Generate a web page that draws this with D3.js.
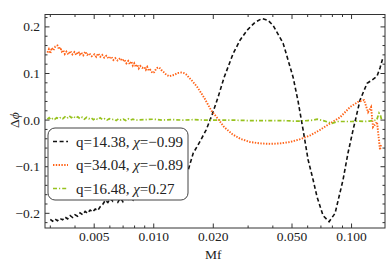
<!DOCTYPE html>
<html>
<head>
<meta charset="utf-8">
<script src="https://cdn.jsdelivr.net/npm/d3@7"></script>
<style>
  body { margin: 0; background: #fff; }
  svg { display: block; font-family: "Liberation Serif", "Times New Roman", serif; }
</style>
</head>
<body>
<div id="chart"></div>
<script>
// series: [Mf, dphi]
var blackPts = [
  [0.00300,-0.213],[0.00308,-0.217],[0.00317,-0.212],[0.00326,-0.216],[0.00336,-0.211],[0.00346,-0.214],
  [0.00356,-0.208],[0.00367,-0.212],[0.00378,-0.205],[0.00389,-0.209],[0.00400,-0.203],[0.00412,-0.206],
  [0.00424,-0.199],[0.00437,-0.203],[0.00450,-0.196],[0.00463,-0.200],[0.00477,-0.193],[0.00491,-0.197],
  [0.00506,-0.191],[0.00521,-0.194],[0.00536,-0.186],[0.00552,-0.181],[0.00569,-0.172],[0.00586,-0.177],
  [0.00603,-0.168],[0.00621,-0.174],[0.00640,-0.166],[0.00659,-0.176],[0.00678,-0.167],[0.00698,-0.175],
  [0.00719,-0.165],[0.00741,-0.172],[0.00763,-0.163],[0.00786,-0.171],[0.00809,-0.160],[0.00833,-0.168],
  [0.00858,-0.158],[0.0100,-0.150],[0.0120,-0.135],[0.0140,-0.118],
  [0.01494,-0.107],[0.01583,-0.071],[0.01717,-0.045],[0.01841,-0.021],[0.01974,0.012],[0.02117,0.050],
  [0.02270,0.092],[0.02521,0.143],[0.02735,0.172],[0.02966,0.193],[0.03256,0.210],[0.03532,0.218],
  [0.03787,0.214],[0.04013,0.203],[0.04508,0.165],[0.05064,0.092],[0.05368,0.040],[0.05689,-0.021],
  [0.06030,-0.085],[0.06391,-0.128],[0.06695,-0.165],[0.07179,-0.205],[0.07697,-0.218],[0.08253,-0.200],
  [0.09058,-0.128],[0.09601,-0.070],[0.1018,-0.021],[0.1104,0.043],[0.1198,0.079],[0.1269,0.086],
  [0.1345,0.094],[0.1393,0.112],[0.1443,0.135]
];
var orangePts = [
  [0.00290,0.145],[0.00295,0.152],[0.00300,0.143],[0.00305,0.155],[0.00311,0.150],[0.00318,0.158],
  [0.00326,0.160],[0.00332,0.152],[0.00337,0.156],[0.00343,0.147],[0.00349,0.150],[0.00355,0.142],
  [0.00362,0.147],[0.00370,0.141],[0.00379,0.148],[0.00388,0.141],[0.00397,0.146],[0.00406,0.140],
  [0.00416,0.147],[0.00423,0.141],[0.00430,0.145],[0.00440,0.139],[0.00451,0.147],[0.00461,0.140],
  [0.00472,0.143],[0.00486,0.137],[0.00501,0.141],[0.00512,0.136],[0.00524,0.143],[0.00537,0.136],
  [0.00549,0.140],[0.00562,0.134],[0.00576,0.138],[0.00593,0.132],[0.00610,0.136],[0.00625,0.129],
  [0.00639,0.133],[0.00656,0.128],[0.00677,0.133],[0.00693,0.127],[0.00710,0.130],[0.00727,0.122],
  [0.00743,0.127],[0.00757,0.120],[0.00770,0.126],[0.00784,0.117],[0.00797,0.122],[0.00811,0.114],
  [0.00825,0.119],[0.00840,0.111],[0.00855,0.116],[0.00875,0.112],[0.00896,0.114],[0.00912,0.108],
  [0.00927,0.114],[0.00944,0.106],[0.00960,0.108],[0.00985,0.101],[0.01006,0.103],[0.01025,0.109],
  [0.01042,0.112],[0.01066,0.113],[0.01090,0.108],[0.01117,0.104],[0.01160,0.097],[0.01198,0.094],
  [0.01240,0.096],[0.01269,0.097],[0.01320,0.101],[0.01377,0.102],[0.01420,0.101],[0.01459,0.098],
  [0.01510,0.091],[0.01565,0.084],[0.01659,0.071],[0.01799,0.048],[0.01951,0.021],[0.02117,0.002],
  [0.02270,-0.015],[0.02492,-0.030],[0.02735,-0.040],[0.03072,-0.047],[0.03451,-0.050],[0.03876,-0.051],
  [0.04354,-0.050],[0.04891,-0.047],[0.05494,-0.041],[0.06171,-0.033],[0.06932,-0.021],[0.07787,-0.007],
  [0.08747,0.006],[0.09826,0.028],[0.1078,0.039],[0.1157,0.043],[0.1212,0.017],[0.1255,0.028],
  [0.1284,-0.015],[0.1345,-0.004],[0.1393,-0.064],[0.1409,-0.053]
];
var greenPts = [
  [0.00290,0.002],[0.00296,0.005],[0.00302,0.001],[0.00309,0.004],[0.00316,0.002],[0.00323,0.005],
  [0.00331,0.003],[0.00339,0.006],[0.00347,0.003],[0.00356,0.007],[0.00365,0.004],[0.00374,0.009],
  [0.00383,0.005],[0.00393,0.008],[0.00403,0.004],[0.00413,0.007],[0.00424,0.003],[0.00435,0.006],
  [0.00446,0.002],[0.00458,0.006],[0.00470,0.003],[0.00482,0.005],[0.00495,0.001],[0.00508,0.004],
  [0.00522,0.001],[0.00536,0.005],[0.00550,0.001],[0.00565,0.003],[0.00580,0.000],[0.00596,0.003],
  [0.00612,0.001],[0.00629,0.002],[0.00646,-0.001],[0.00664,0.003],[0.00683,0.000],[0.00702,0.002],
  [0.00722,-0.001],[0.00742,0.003],[0.00763,0.000],[0.00785,0.002],[0.00808,0.000],[0.0090,0.001],
  [0.0100,0.002],[0.0110,0.000],[0.0125,0.001],[0.0140,0.000],[0.0160,0.001],[0.0180,0.000],
  [0.0210,0.000],[0.0250,0.000],[0.0300,-0.001],[0.0350,-0.001],[0.0400,-0.001],[0.0450,-0.001],
  [0.0500,-0.002],[0.0550,-0.002],[0.0600,-0.001],[0.0640,0.000],[0.0670,0.002],[0.0720,-0.001],
  [0.0797,-0.007],[0.0850,-0.003],[0.0920,-0.003],[0.1000,-0.003],[0.1080,-0.002],[0.1160,-0.003],
  [0.1230,-0.002],[0.1290,-0.001],[0.1340,0.000],[0.1377,0.015],[0.1400,0.010],[0.1420,0.000]
];

var seriesNames = ["q=14.38, ", "q=34.04, ", "q=16.48, "];
var seriesChi = ["=\u22120.99", "=\u22120.89", "=0.27"];
var seriesColors = ["#111111", "#ff6318", "#97c21e"];
var seriesDash = ["4,2.6", "1.4,1.4", "4,2,1.2,2"];

var xMajor = [0.005, 0.01, 0.02, 0.05, 0.1];
var xLabels = ["0.005", "0.010", "0.020", "0.050", "0.100"];
var yMajor = [-0.2, -0.1, 0, 0.1, 0.2];
var yLabels = ["\u22120.2", "\u22120.1", "0.0", "0.1", "0.2"];

var width = 390, height = 261;
var margin = {top: 14.5, right: 5, bottom: 33, left: 45};

var svg = d3.select('#chart').append('svg')
    .attr('width', width)
    .attr('height', height);

var x = d3.scaleLog()
    .domain([0.00282, 0.1476])
    .range([margin.left, width - margin.right]);

var y = d3.scaleLinear()
    .domain([-0.2315, 0.2266])
    .range([height - margin.bottom, margin.top]);

svg.append('clipPath').attr('id', 'clip')
  .append('rect')
    .attr('x', margin.left).attr('y', margin.top)
    .attr('width', x.range()[1] - x.range()[0])
    .attr('height', y.range()[0] - y.range()[1]);

var line = d3.line()
    .x(function(d) { return x(d[0]); })
    .y(function(d) { return y(d[1]); });

var allSeries = [blackPts, orangePts, greenPts];
var widths = [1.6, 1.9, 1.7];

svg.append('g').attr('clip-path', 'url(#clip)')
  .selectAll('path')
  .data(allSeries)
  .enter().append('path')
    .attr('d', line)
    .attr('fill', 'none')
    .attr('stroke', function(d, i) { return seriesColors[i]; })
    .attr('stroke-width', function(d, i) { return widths[i]; })
    .attr('stroke-dasharray', function(d, i) { return seriesDash[i]; });

// frame + ticks (inside, mirrored)
var x0 = x.range()[0], x1 = x.range()[1], y0 = y.range()[0], y1 = y.range()[1];
var axes = svg.append('g').attr('stroke', '#333').attr('stroke-width', 1);

axes.append('rect')
    .attr('x', x0).attr('y', y1)
    .attr('width', x1 - x0).attr('height', y0 - y1)
    .attr('fill', 'none');

var xMinor = x.ticks().filter(function(t) {
  return xMajor.every(function(m) { return Math.abs(m - t) / m > 1e-6; });
});
var yMinor = d3.range(-22, 23, 2).map(function(v) { return v / 100; })
  .filter(function(t) { return Math.abs(t * 10 - Math.round(t * 10)) > 1e-6; });

function xTicks(vals, len) {
  vals.forEach(function(t) {
    axes.append('line').attr('x1', x(t)).attr('x2', x(t)).attr('y1', y0).attr('y2', y0 - len);
    axes.append('line').attr('x1', x(t)).attr('x2', x(t)).attr('y1', y1).attr('y2', y1 + len);
  });
}
function yTicks(vals, len) {
  vals.forEach(function(t) {
    axes.append('line').attr('y1', y(t)).attr('y2', y(t)).attr('x1', x0).attr('x2', x0 + len);
    axes.append('line').attr('y1', y(t)).attr('y2', y(t)).attr('x1', x1).attr('x2', x1 - len);
  });
}
xTicks(xMajor, 4.5);
xTicks(xMinor, 2.5);
yTicks(yMajor, 4.5);
yTicks(yMinor, 2.5);

svg.append('g').selectAll('text')
  .data(xMajor)
  .enter().append('text')
    .attr('x', function(d) { return x(d); })
    .attr('y', y0 + 12.5)
    .attr('text-anchor', 'middle')
    .attr('font-size', 13.5)
    .attr('fill', '#222')
    .text(function(d, i) { return xLabels[i]; });

svg.append('g').selectAll('text')
  .data(yMajor)
  .enter().append('text')
    .attr('x', x0 - 5)
    .attr('y', function(d) { return y(d) + 4.5; })
    .attr('text-anchor', 'end')
    .attr('font-size', 13.5)
    .attr('fill', '#222')
    .text(function(d, i) { return yLabels[i]; });

svg.append('text')
    .attr('x', x(0.02))
    .attr('y', 258.5)
    .attr('text-anchor', 'middle')
    .attr('font-size', 13.5)
    .attr('fill', '#222')
    .text('Mf');

var ylab = svg.append('text')
    .attr('transform', 'translate(19,' + y(0) + ') rotate(-90)')
    .attr('text-anchor', 'middle')
    .attr('font-size', 13.5)
    .attr('fill', '#222');
ylab.append('tspan').text('\u0394');
ylab.append('tspan').attr('font-style', 'italic').text('\u03d5');

// legend
var legend = svg.append('g').attr('transform', 'translate(48,128)');
legend.append('rect')
    .attr('width', 140).attr('height', 72)
    .attr('rx', 7).attr('ry', 7)
    .attr('fill', '#fff')
    .attr('stroke', '#444')
    .attr('stroke-width', 1);

var rows = legend.selectAll('g.row')
  .data(seriesNames)
  .enter().append('g')
    .attr('class', 'row')
    .attr('transform', function(d, i) { return 'translate(0,' + (13.5 + i * 23.5) + ')'; });

rows.append('line')
    .attr('x1', 5).attr('x2', 20)
    .attr('stroke', function(d, i) { return seriesColors[i]; })
    .attr('stroke-width', function(d, i) { return widths[i]; })
    .attr('stroke-dasharray', function(d, i) { return seriesDash[i]; });

var lt = rows.append('text')
    .attr('x', 28)
    .attr('y', 5)
    .attr('font-size', 15)
    .attr('fill', '#222');
lt.append('tspan').text(function(d) { return d; });
lt.append('tspan').attr('font-style', 'italic').text('\u03c7');
lt.append('tspan').text(function(d, i) { return seriesChi[i]; });
</script>
</body>
</html>
